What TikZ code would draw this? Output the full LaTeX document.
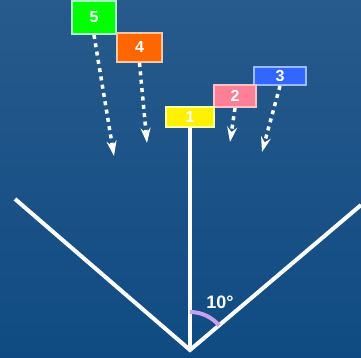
\documentclass[tikz,border=0pt]{standalone}
\usepackage{fontspec}
\setmainfont{Liberation Sans}
\usetikzlibrary{arrows.meta}
\definecolor{bgtop}{RGB}{40,90,140}
\definecolor{bgbot}{RGB}{15,75,130}
\definecolor{arcpurple}{RGB}{200,160,240}
\tikzset{
  tag/.style={draw, line width=2pt, inner sep=0pt, text=white,
    font=\fontsize{16}{16}\selectfont\bfseries},
  drop/.style={->, white, line width=3.5pt, dash pattern=on 4pt off 4.4pt},
  arm/.style={white, line width=4pt}
}
\begin{document}
\begin{tikzpicture}[>={Stealth[length=15pt,width=10pt,inset=5pt]},x=1pt,y=1pt]
      % background
      \shade[top color=bgtop, bottom color=bgbot] (0,0) rectangle (361,358);
      \useasboundingbox (0,0) rectangle (361,358);
      % tags
      \node[tag, fill={rgb,255:red,0;green,255;blue,0}, draw={rgb,255:red,170;green,240;blue,200},
        minimum width=44pt, minimum height=33pt] (b5) at (94,340.5) {5};
      \node[tag, fill={rgb,255:red,255;green,102;blue,0}, draw={rgb,255:red,255;green,200;blue,160},
        minimum width=45pt, minimum height=29pt] (b4) at (139.5,310.5) {4};
      \node[tag, fill={rgb,255:red,51;green,102;blue,255}, draw={rgb,255:red,153;green,187;blue,255},
        minimum width=52pt, minimum height=18pt] (b3) at (280,282) {3};
      \node[tag, fill={rgb,255:red,255;green,128;blue,150}, draw={rgb,255:red,255;green,192;blue,204},
        minimum width=42pt, minimum height=22pt] (b2) at (235,262) {2};
      \node[tag, fill=yellow, draw={rgb,255:red,255;green,255;blue,160},
        minimum width=48pt, minimum height=20pt] (b1) at (190,241) {1};
      % V and post
      \coordinate (v) at (190,8);
      \coordinate (l) at (15,159);
      \coordinate (r) at (361,153);
      \draw[arm, line join=miter] (l) -- (v) -- (r);
      \draw[arm] (v) -- (b1.south);
      % angle
      \draw[arcpurple, line width=4pt] ([shift={(90:38)}]v) arc (90:40:38);
      \node[white, font=\fontsize{18}{18}\selectfont\bfseries] (ang) at (220,56) {10°};
      % drops
      \coordinate (t5) at (114,202);
      \coordinate (t4) at (147,215);
      \coordinate (t2) at (230,216);
      \coordinate (t3) at (262,206);
      \draw[drop] (b5.south) -- (t5);
      \draw[drop] (b4.south) -- (t4);
      \draw[drop] (b2.south) -- (t2);
      \draw[drop] (b3.south) -- (t3);
\end{tikzpicture}
\end{document}
